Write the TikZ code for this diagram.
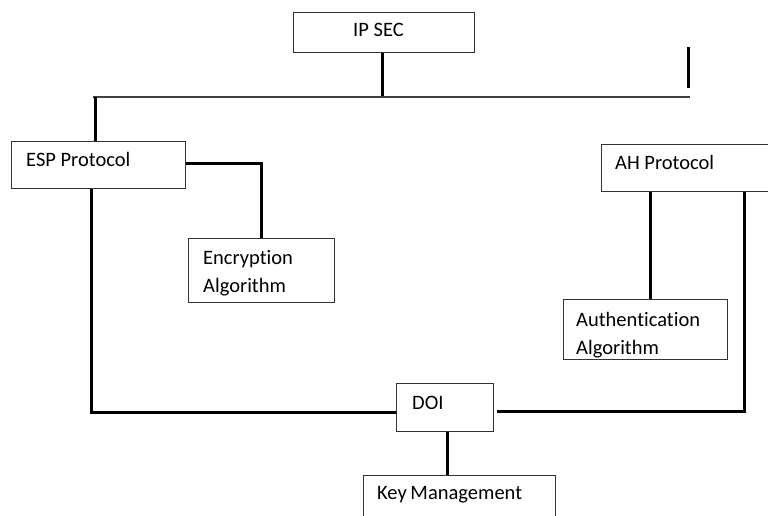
\documentclass[tikz,border=0pt]{standalone}
\usepackage{fontspec}
\setmainfont{Carlito}[Ligatures=NoCommon]
\begin{document}
\begin{tikzpicture}[x=1pt,y=-1pt,
  box/.style={draw=black!80,line width=1.1pt,rectangle,inner sep=0pt,anchor=north west},
  lbl/.style={anchor=base west,inner sep=0pt,font=\fontsize{20.5}{24}\selectfont,text=black},
  link/.style={line width=3pt,line join=miter,black},
  bus/.style={line width=1.4pt,black!75}]
\useasboundingbox (0,0) rectangle (768,516);
\fill[white] (0,0) rectangle (768,516);

% boxes
\node[box,minimum width=181pt,minimum height=40pt] (ipsec) at (293,12) {};
\node[box,minimum width=174pt,minimum height=47pt] (esp) at (11,141) {};
\node[box,minimum width=146pt,minimum height=64pt] (enc) at (188,238) {};
\node[box,minimum width=170pt,minimum height=47pt] (ah) at (601,144) {};
\node[box,minimum width=164pt,minimum height=60pt] (auth) at (563,299) {};
\node[box,minimum width=97pt,minimum height=48pt] (doi) at (396,383) {};
\node[box,minimum width=192pt,minimum height=60pt] (key) at (363,475) {};

% labels
\node[lbl] (tipsec) at (353,37) {IP SEC};
\node[lbl] (tesp) at (26,166) {ESP Protocol};
\node[lbl] (tenc1) at (203,264) {Encryption};
\node[lbl] (tenc2) at (203,292) {Algorithm};
\node[lbl] (tah) at (615,169) {AH Protocol};
\node[lbl] (tauth1) at (576,326) {Authentication};
\node[lbl] (tauth2) at (576,354) {Algorithm};
\node[lbl] (tdoi) at (412,409) {DOI};
\node[lbl] (tkey) at (377,499) {Key\kern-1pt\ Management};

% bus line and its drops
\coordinate (busL) at (93,97);
\coordinate (busR) at (690,97);
\coordinate (stubT) at (688,47);
\coordinate (stubB) at (688,88);
\draw[bus] (busL) -- (busR);
\draw[link] (ipsec.south -| 382,0) -- (382,96);
\draw[link] (stubT) -- (stubB);
\draw[link] (95,97) -- (esp.north -| 95,0);

% ESP branch
\draw[link] (esp.east |- 0,163) -- (261,163) -- (enc.north -| 261,0);
\draw[link] (esp.south -| 91,0) -- (91,412) -- (doi.west |- 0,412);

% AH branch
\draw[link] (ah.south -| 650,0) -- (auth.north -| 650,0);
\draw[link] (497,411) -- (744,411) -- (ah.south -| 744,0);

% DOI to key management
\draw[link] (doi.south -| 447,0) -- (key.north -| 447,0);
\end{tikzpicture}
\end{document}
